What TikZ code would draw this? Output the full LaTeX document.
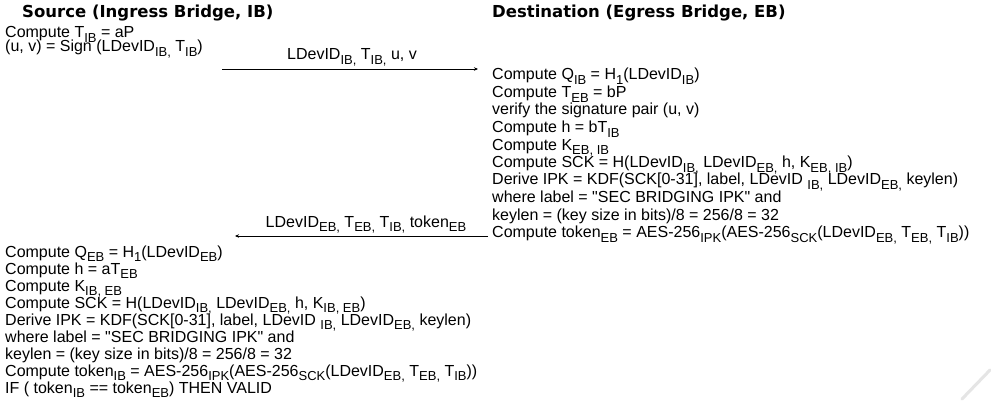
\documentclass[tikz,border=0pt]{standalone}
\usepackage{fontspec}
\setmainfont{Liberation Sans}[Ligatures=TeXOff]
\newfontfamily\hdfont{DejaVu Sans}
\usetikzlibrary{arrows.meta}
\newcommand\lo[1]{\raisebox{-0.55ex}{\fontsize{13}{13}\selectfont #1}}
\tikzset{
  txt/.style={anchor=base west, inner sep=0pt, font=\fontsize{16}{17}\selectfont},
  hd/.style={anchor=base west, inner sep=0pt, font=\hdfont\bfseries\fontsize{16.5}{18}\selectfont},
  lbl/.style={anchor=base, inner sep=0pt, font=\fontsize{16}{17}\selectfont},
  msg/.style={draw=black, line width=0.9pt, -{Stealth[length=4pt,width=3.5pt]}},
  curl/.style={draw=black!10, line width=3pt, line cap=round}
}
\begin{document}
\begin{tikzpicture}[x=1pt,y=-1pt]
\useasboundingbox[fill=white] (0,0) rectangle (991,401);
% faint page-curl shadow
\coordinate (c1) at (962,399);
\coordinate (c2) at (990,370);
\draw[curl] (c1) -- (c2);
% headers
\node[hd] (hsrc) at (22,18) {Source (Ingress Bridge, IB)};
\node[hd] (hdst) at (492,18) {Destination (Egress Bridge, EB)};
% top-left block
\node[txt] (l1) at (5,38) {Compute T\lo{IB} = aP};
\node[txt] (l2) at (5,52) {(u, v) = Sign (LDevID\lo{IB,} T\lo{IB})};
% message 1
\coordinate (m1s) at (222,69);
\coordinate (m1e) at (478,69);
\draw[msg] (m1s) -- (m1e);
\node[lbl] (m1l) at (352,60) {LDevID\lo{IB,} T\lo{IB,} u, v};
% right block
\node[txt] (r1) at (492,80) {Compute Q\lo{IB} = H\lo{1}(LDevID\lo{IB})};
\node[txt] (r2) at (492,97.5) {Compute T\lo{EB} = bP};
\node[txt] (r3) at (492,115) {verify the signature pair (u, v)};
\node[txt] (r4) at (492,132.5) {Compute h = bT\lo{IB}};
\node[txt] (r5) at (492,150) {Compute K\lo{EB, IB}};
\node[txt] (r6) at (492,167.5) {Compute SCK = H(LDevID\lo{IB,} LDevID\lo{EB,} h, K\lo{EB, IB})};
\node[txt] (r7) at (492,185) {Derive IPK = KDF(SCK[0-31], label, LDevID \lo{IB,} LDevID\lo{EB,} keylen)};
\node[txt] (r8) at (492,202.5) {where label = "SEC BRIDGING IPK" and};
\node[txt] (r9) at (492,220) {keylen = (key size in bits)/8 = 256/8 = 32};
\node[txt] (r10) at (492,237.5) {Compute token\lo{EB} = AES-256\lo{IPK}(AES-256\lo{SCK}(LDevID\lo{EB,} T\lo{EB,} T\lo{IB}))};
% message 2
\coordinate (m2s) at (488,236);
\coordinate (m2e) at (235,236);
\draw[msg] (m2s) -- (m2e);
\node[lbl] (m2l) at (366,227) {LDevID\lo{EB,} T\lo{EB,} T\lo{IB,} token\lo{EB}};
% bottom-left block
\node[txt] (b1) at (5,257) {Compute Q\lo{EB} = H\lo{1}(LDevID\lo{EB})};
\node[txt] (b2) at (5,274) {Compute h = aT\lo{EB}};
\node[txt] (b3) at (5,291) {Compute K\lo{IB, EB}};
\node[txt] (b4) at (5,308) {Compute SCK = H(LDevID\lo{IB,} LDevID\lo{EB,} h, K\lo{IB, EB})};
\node[txt] (b5) at (5,325) {Derive IPK = KDF(SCK[0-31], label, LDevID \lo{IB,} LDevID\lo{EB,} keylen)};
\node[txt] (b6) at (5,342) {where label = "SEC BRIDGING IPK" and};
\node[txt] (b7) at (5,359) {keylen = (key size in bits)/8 = 256/8 = 32};
\node[txt] (b8) at (5,376) {Compute token\lo{IB} = AES-256\lo{IPK}(AES-256\lo{SCK}(LDevID\lo{EB,} T\lo{EB,} T\lo{IB}))};
\node[txt] (b9) at (5,393) {IF ( token\lo{IB} == token\lo{EB}) THEN VALID};
\end{tikzpicture}
\end{document}
